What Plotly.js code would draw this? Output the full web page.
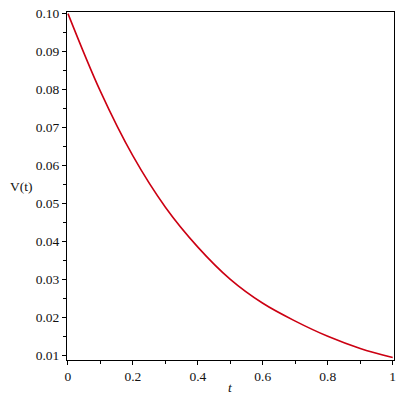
<!DOCTYPE html>
<html>
<head>
<meta charset="utf-8">
<script src="https://cdn.plot.ly/plotly-3.0.1.min.js"></script>
<style>html,body{margin:0;padding:0;background:#fff;}#chart{width:400px;height:400px;}</style>
</head>
<body>
<div id="chart"></div>
<script>
const tValues = [0, 0.1, 0.2, 0.3, 0.4, 0.5, 0.6, 0.7, 0.8, 0.9, 1.0];
const vValues = [0.1000, 0.0795, 0.0625, 0.0490, 0.0385, 0.0300, 0.0237, 0.0190, 0.0150, 0.0118, 0.0094];
const xTitle = 't';
const yTitle = 'V(t)';

const font = {family: 'Liberation Serif, Times New Roman, serif', size: 13.5, color: '#111'};

Plotly.newPlot('chart', [{
  x: tValues, y: vValues, type: 'scatter', mode: 'lines',
  line: {color: 'rgb(204,0,18)', width: 1.6, shape: 'spline', smoothing: 1},
  hoverinfo: 'skip'
}], {
  width: 400, height: 400,
  margin: {l: 67, r: 6, t: 12, b: 40},
  paper_bgcolor: '#fff', plot_bgcolor: '#fff',
  showlegend: false,
  font: font,
  xaxis: {
    range: [-0.003, 1.004], dtick: 0.2, tick0: 0,
    showgrid: false, zeroline: false,
    showline: true, linecolor: '#000', linewidth: 1, mirror: true,
    ticks: 'outside', ticklen: 4, tickcolor: '#000', tickwidth: 1,
    minor: {dtick: 0.1, tick0: 0, ticks: 'outside', ticklen: 3, tickcolor: '#000', showgrid: false},
    tickfont: font
  },
  yaxis: {
    range: [0.00876, 0.10042], dtick: 0.01, tick0: 0, tickformat: '.2f',
    showgrid: false, zeroline: false,
    showline: true, linecolor: '#000', linewidth: 1, mirror: true,
    ticks: 'outside', ticklen: 4, tickcolor: '#000', tickwidth: 1,
    minor: {dtick: 0.005, tick0: 0, ticks: 'outside', ticklen: 3, tickcolor: '#000', showgrid: false},
    tickfont: font
  },
  annotations: [
    {text: yTitle, xref: 'paper', yref: 'paper', x: -0.14, y: 0.5, xanchor: 'center', yanchor: 'middle',
     showarrow: false, font: font},
    {text: '<i>' + xTitle + '</i>', xref: 'paper', yref: 'paper', x: 0.5, y: 0, xanchor: 'center', yanchor: 'middle',
     yshift: -27, showarrow: false, font: font}
  ]
}, {displayModeBar: false, staticPlot: true});
</script>
</body>
</html>
